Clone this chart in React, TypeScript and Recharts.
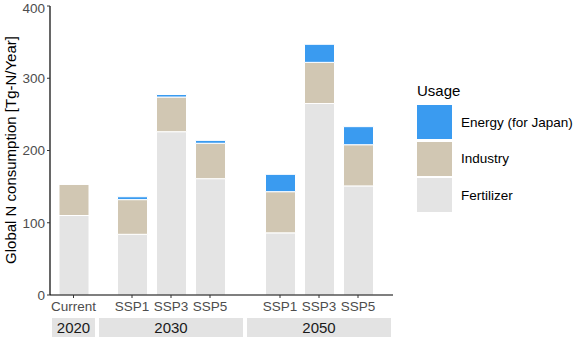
import React from "react";
import { BarChart, Bar, XAxis, YAxis } from "recharts";

// values (Tg-N/Year)
const facetYears = ["2020", "2030", "2050"];
const scenarios = ["Current", "SSP1", "SSP3", "SSP5", "SSP1", "SSP3", "SSP5"];
const scenarioYears = ["2020", "2030", "2030", "2030", "2050", "2050", "2050"];
const fertilizer = [110, 84, 226, 161, 86, 265, 151];
const industry = [43, 48, 48, 49, 57, 57, 57];
const energy = [0, 4, 3.5, 4, 24, 25, 25];
const yTicks = [0, 100, 200, 300, 400];

const COLORS = {
    fertilizer: "#e4e4e4",
    industry: "#d1c7b3",
    energy: "#3a9bf0",
};

const legendItems = [
    { key: "energy", label: "Energy (for Japan)" },
    { key: "industry", label: "Industry" },
    { key: "fertilizer", label: "Fertilizer" },
];

const rows = scenarios.map((s, i) => ({
    scenario: s,
    year: scenarioYears[i],
    fertilizer: fertilizer[i],
    industry: industry[i],
    energy: energy[i],
}));

// facet layout (pixels)
const panels = [
    { left: 0, width: 97, yAxis: true, pad: 0, strip: [52, 95] },
    { left: 97, width: 148, yAxis: false, pad: 15.5, strip: [99, 243] },
    { left: 245, width: 148, yAxis: false, pad: 15.5, strip: [247, 391] },
];

const FONT = "'Liberation Sans', Arial, sans-serif";
const CHART_H = 315;

function Facet({ year, idx }: { year: string; idx: number }) {
    const p = panels[idx];
    const data = rows.filter((r) => r.year === year);
    return (
        <div style={{ position: "absolute", left: p.left, top: 0 }}>
            <BarChart
                width={p.width}
                height={CHART_H}
                data={data}
                margin={{ top: 6, right: 0, bottom: 0, left: 0 }}
                barSize={30}
            >
                <XAxis
                    dataKey="scenario"
                    interval={0}
                    height={20}
                    padding={{ left: p.pad, right: p.pad }}
                    axisLine={{ stroke: "#000", strokeWidth: 1.2 }}
                    tickLine={{ stroke: "#333" }}
                    tickSize={3}
                    tickMargin={3}
                    tick={{ fill: "#4d4d4d", fontSize: 13.5 }}
                />
                <YAxis
                    hide={!p.yAxis}
                    domain={[0, 400]}
                    ticks={yTicks}
                    width={50}
                    axisLine={{ stroke: "#000", strokeWidth: 1.2 }}
                    tickLine={{ stroke: "#333" }}
                    tickSize={3}
                    tickMargin={2}
                    tick={{ fill: "#4d4d4d", fontSize: 13.5 }}
                />
                <Bar dataKey="fertilizer" stackId="a" fill={COLORS.fertilizer} stroke="#fff" strokeWidth={1} isAnimationActive={false} />
                <Bar dataKey="industry" stackId="a" fill={COLORS.industry} stroke="#fff" strokeWidth={1} isAnimationActive={false} />
                <Bar dataKey="energy" stackId="a" fill={COLORS.energy} stroke="#fff" strokeWidth={1} isAnimationActive={false} />
            </BarChart>
        </div>
    );
}

export default function App() {
    return (
        <div style={{ position: "relative", width: 575, height: 340, fontFamily: FONT, background: "#fff" }}>
            <style>{"body{margin:0}"}</style>

            {facetYears.map((y, i) => (
                <Facet key={y} year={y} idx={i} />
            ))}

            {/* facet strips */}
            {facetYears.map((y, i) => {
                const [x0, x1] = panels[i].strip;
                return (
                    <div
                        key={"strip" + y}
                        style={{
                            position: "absolute",
                            left: x0,
                            top: 318,
                            width: x1 - x0,
                            height: 19,
                            background: "#e3e3e3",
                            color: "#1a1a1a",
                            fontSize: 15,
                            lineHeight: "19px",
                            textAlign: "center",
                        }}
                    >
                        {y}
                    </div>
                );
            })}

            {/* y axis title */}
            <div
                style={{
                    position: "absolute",
                    left: 10,
                    top: 150,
                    transform: "translate(-50%, -50%) rotate(-90deg)",
                    whiteSpace: "nowrap",
                    fontSize: 15,
                    color: "#000",
                }}
            >
                Global N consumption [Tg-N/Year]
            </div>

            {/* legend */}
            <div style={{ position: "absolute", left: 417, top: 82, fontSize: 15, color: "#000" }}>Usage</div>
            {legendItems.map((it, i) => (
                <div
                    key={it.key}
                    style={{ position: "absolute", left: 417, top: 105 + i * 36.5, display: "flex", alignItems: "center" }}
                >
                    <div
                        style={{
                            width: 35,
                            height: 34,
                            background: COLORS[it.key as keyof typeof COLORS],
                        }}
                    />
                    <span style={{ marginLeft: 9, fontSize: 13.5, color: "#000" }}>{it.label}</span>
                </div>
            ))}
        </div>
    );
}
